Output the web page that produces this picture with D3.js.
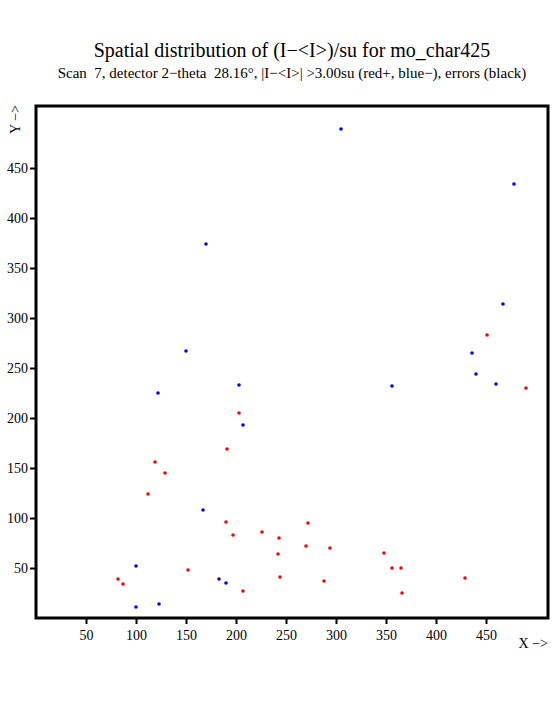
<!DOCTYPE html>
<html>
<head>
<meta charset="utf-8">
<script src="https://cdn.jsdelivr.net/npm/d3@7"></script>
<style>
    body { margin: 0; background: white; }
    text { font-family: "Liberation Serif", "DejaVu Serif", serif; white-space: pre; }
</style>
</head>
<body>
<div id="chart"></div>
<script>
// points with (I-<I>)/su above +3 (red) and below -3 (blue)
const redX = [451, 490, 203, 191, 119, 129, 112, 190, 272, 226, 197, 243, 270, 294, 242, 348, 356, 365, 152, 244, 82, 87, 288, 207, 366, 429];
const redY = [283, 230, 205, 169, 156, 145, 124, 96, 95, 86, 83, 80, 72, 70, 64, 65, 50, 50, 48, 41, 39, 34, 37, 27, 25, 40];
const blueX = [305, 478, 170, 467, 150, 436, 440, 460, 356, 203, 122, 207, 167, 100, 183, 190, 100, 123];
const blueY = [489, 434, 374, 314, 267, 265, 244, 234, 232, 233, 225, 193, 108, 52, 39, 35, 11, 14];

const xTicks = [50, 100, 150, 200, 250, 300, 350, 400, 450];
const yTicks = [50, 100, 150, 200, 250, 300, 350, 400, 450];

const TITLE = "Spatial distribution of (I\u2212<I>)/su for mo_char425";
const SUBTITLE = "Scan  7, detector 2\u2212theta  28.16\u00b0, |I\u2212<I>| >3.00su (red+, blue\u2212), errors (black)";

const MARGIN = {left: 36, right: 7, top: 106, bottom: 107};
const width = 512;
const height = 512;

const renderChart = () => {
    let svg = d3.select("#chart")
        .append("svg")
            .attr("width", 555)
            .attr("height", 725)
            .style("background-color", "white");

    // titles
    svg.append("text")
        .attr("x", MARGIN.left + width / 2)
        .attr("y", 57)
        .attr("text-anchor", "middle")
        .attr("font-size", 20)
        .text(TITLE);
    svg.append("text")
        .attr("x", MARGIN.left + width / 2)
        .attr("y", 78)
        .attr("text-anchor", "middle")
        .attr("font-size", 15)
        .text(SUBTITLE);

    let g = svg.append("g")
        .attr("transform", "translate(" + MARGIN.left + "," + MARGIN.top + ")");

    let xScale = d3.scaleLinear().domain([0, 512]).range([0, width]);
    let yScale = d3.scaleLinear().domain([0, 512]).range([height, 0]);

    // x axis
    let xAxis = g.append("g")
        .attr("transform", "translate(0," + height + ")")
        .call(d3.axisBottom(xScale)
            .tickValues(xTicks)
            .tickSize(6)
            .tickPadding(6)
        );
    xAxis.select(".domain").remove();
    xAxis.selectAll(".tick line").attr("stroke", "black").attr("stroke-width", 2);
    xAxis.selectAll(".tick text")
        .attr("font-family", "Liberation Serif")
        .attr("font-size", 14)
        .attr("fill", "black");

    // y axis
    let yAxis = g.append("g")
        .call(d3.axisLeft(yScale)
            .tickValues(yTicks)
            .tickSize(6)
            .tickPadding(2)
        );
    yAxis.select(".domain").remove();
    yAxis.selectAll(".tick line").attr("stroke", "black").attr("stroke-width", 2);
    yAxis.selectAll(".tick text")
        .attr("font-family", "Liberation Serif")
        .attr("font-size", 14)
        .attr("fill", "black");

    // axis names
    svg.append("text")
        .attr("x", MARGIN.left + width)
        .attr("y", MARGIN.top + height + 20)
        .attr("dy", "0.71em")
        .attr("text-anchor", "end")
        .attr("font-size", 14)
        .text("X \u2212>");
    svg.append("text")
        .attr("transform", "translate(20," + (MARGIN.top - 1) + ") rotate(-90)")
        .attr("text-anchor", "end")
        .attr("font-size", 14)
        .text("Y \u2212>");

    // points
    let redPts = redX.map((x, i) => ({x: x, y: redY[i]}));
    let bluePts = blueX.map((x, i) => ({x: x, y: blueY[i]}));
    g.selectAll(".red")
        .data(redPts)
        .enter()
        .append("circle")
            .attr("class", "red")
            .attr("cx", (d) => xScale(d.x))
            .attr("cy", (d) => yScale(d.y))
            .attr("r", 1.8)
            .attr("fill", "#ff0000");
    g.selectAll(".blue")
        .data(bluePts)
        .enter()
        .append("circle")
            .attr("class", "blue")
            .attr("cx", (d) => xScale(d.x))
            .attr("cy", (d) => yScale(d.y))
            .attr("r", 1.8)
            .attr("fill", "#0000ff");

    // frame
    g.append("rect")
        .attr("x", 0)
        .attr("y", 0)
        .attr("width", width)
        .attr("height", height)
        .attr("fill", "none")
        .attr("stroke", "black")
        .attr("stroke-width", 3);
}

renderChart();
</script>
</body>
</html>
